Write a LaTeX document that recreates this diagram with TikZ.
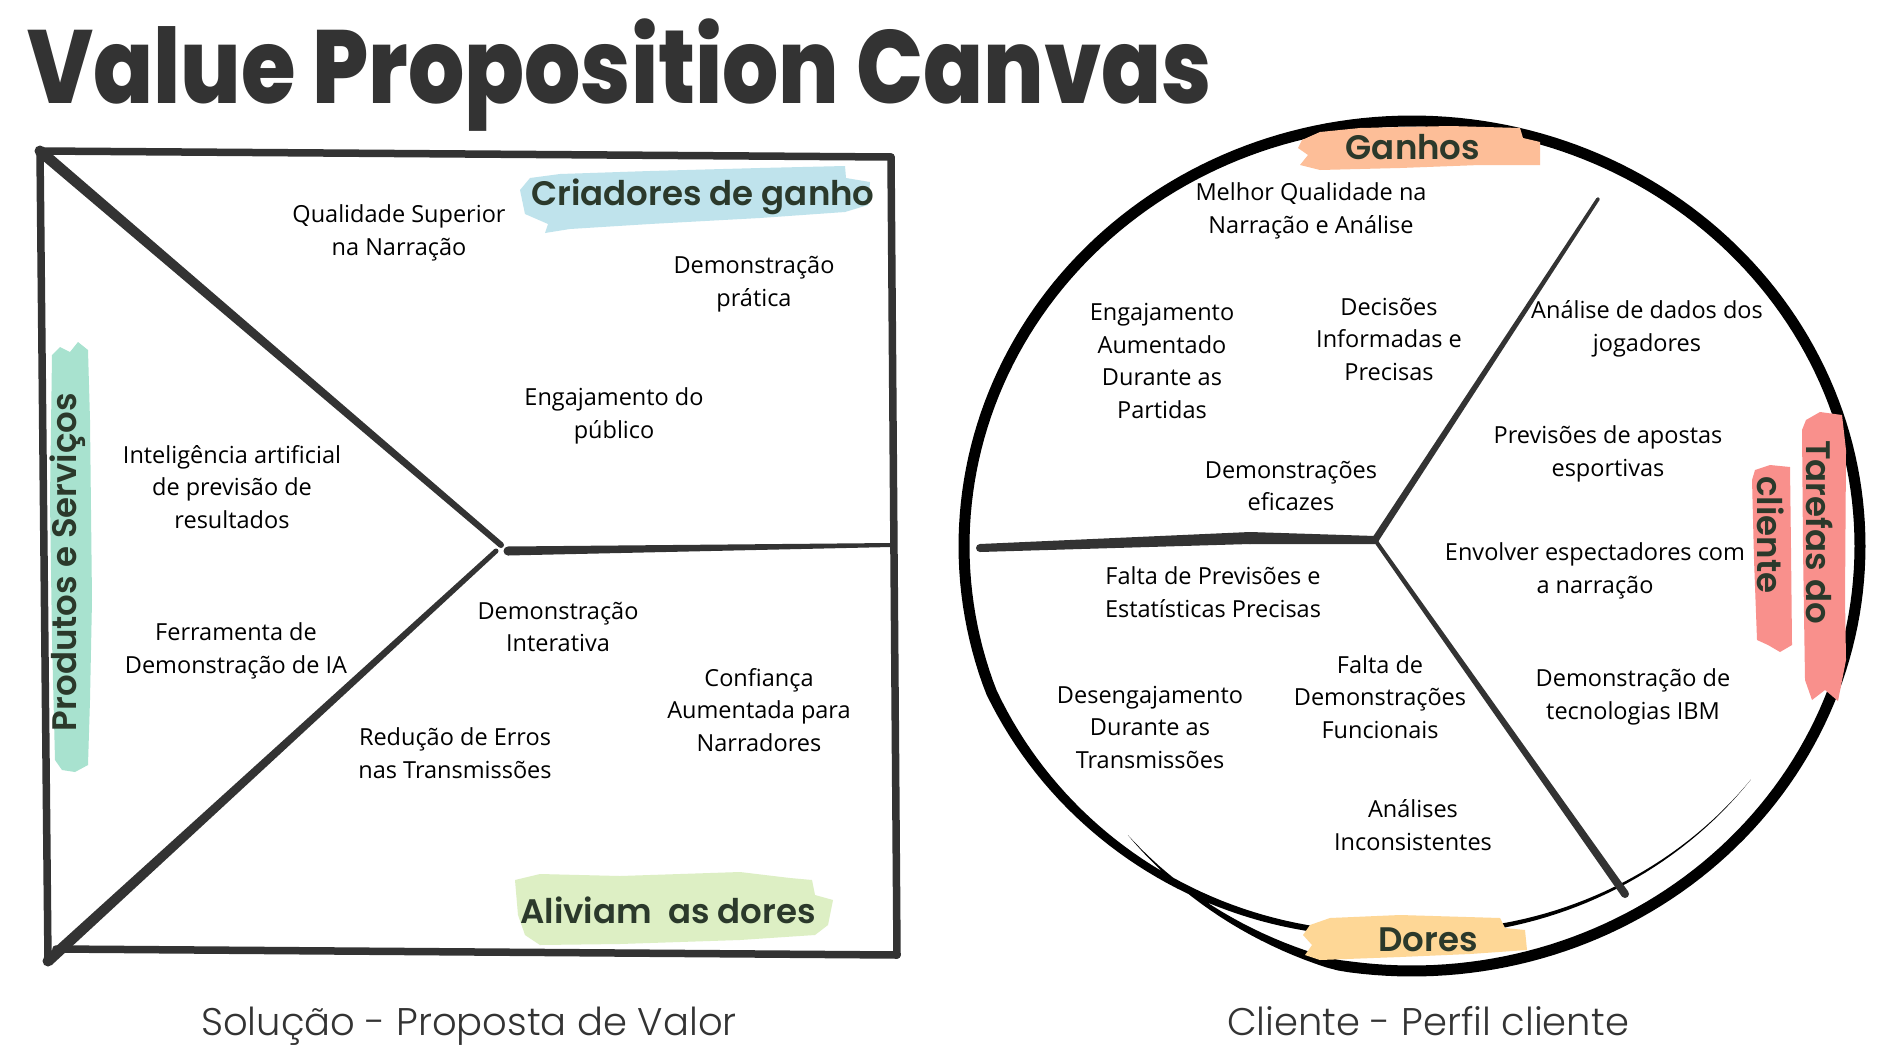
\documentclass[tikz,border=0pt]{standalone}
\usepackage{fontspec}
\usetikzlibrary{calc}
\newfontfamily\os{Open Sans}
\newfontfamily\popr{Poppins}
\IfFontExistsTF{Poppins SemiBold}{\newfontfamily\popsb{Poppins SemiBold}}{\def\popsb{\popr\bfseries}}
\IfFontExistsTF{Poppins ExtraBold}{\newfontfamily\popb{Poppins ExtraBold}}{%
  \IfFontExistsTF{Poppins Bold}{\newfontfamily\popb{Poppins Bold}}{\def\popb{\popr\bfseries}}}
\IfFontExistsTF{Poppins Light}{\newfontfamily\popl{Poppins Light}}{\def\popl{\popr}}
\definecolor{ink}{HTML}{333333}
\definecolor{lab}{HTML}{2B392B}
\definecolor{bblue}{HTML}{BFE3EC}
\definecolor{bgreen}{HTML}{DDEFC4}
\definecolor{bmint}{HTML}{A8E2CF}
\definecolor{bpeach}{HTML}{FDBE98}
\definecolor{byellow}{HTML}{FED796}
\definecolor{bpink}{HTML}{F9908C}
\newcommand\tpr[5]{\fill[#5] ($(#1)!#3!90:(#2)$) -- ($(#1)!#3!-90:(#2)$) -- ($(#2)!#4!90:(#1)$) -- ($(#2)!#4!-90:(#1)$) -- cycle;
  \fill[#5] (#1) circle (#3); \fill[#5] (#2) circle (#4);}
\tikzset{
  body/.style={align=center, text=black, font=\os\fontsize{23.5}{32.5}\selectfont, inner sep=0pt},
  label/.style={text=lab, font=\popsb\fontsize{34}{40}\selectfont, inner sep=0pt},
  caption/.style={text=ink, anchor=base, font=\popl\fontsize{38.5}{44}\selectfont, inner sep=0pt},
  edge/.style={draw=ink, line width=7.5pt, line cap=round, line join=round},
  declare function={
    kk(\x)=1-0.07*max(0,min(1,(-100-\x)/33))-0.09*max(0,min(1,(\x-200)/70))+0.025*max(0,min(1,(\x-270)/54));
    ww(\x)=11*min(1,(\x+133)/35)*(1-0.5*max(0,min(1,(\x-200)/60)))*min(1,(324-\x)/50);
  }
}
\begin{document}
\begin{tikzpicture}[x=1pt,y=-1pt]
\useasboundingbox[fill=white] (0,0) rectangle (1894,1052);

% title
\node[anchor=base west, inner sep=0pt, text=ink, xscale=0.85, font=\popb\fontsize{104}{110}\selectfont] (title) at (27,103) {Value Proposition Canvas};

% ---------- left square ----------
\coordinate (TL) at (40,151);
\coordinate (TR) at (891,157);
\coordinate (BR) at (897,955);
\coordinate (BL) at (48,961);
\coordinate (BB) at (56,949);
\coordinate (V) at (501,545);
\coordinate (V2) at (496,551);
\coordinate (M) at (508,551);
\coordinate (ME) at (891,545);

% brushes (left)
\fill[bblue] (520,190) -- (530,178) -- (560,174) -- (650,171) -- (760,168) -- (845,166) -- (846,178) -- (870,182) -- (868,205) -- (845,212) -- (760,218) -- (650,224) -- (570,229) -- (545,233) -- (548,224) -- (525,214) -- cycle;
\fill[bgreen] (515,880) -- (540,874) -- (620,876) -- (740,872) -- (790,878) -- (812,880) -- (815,895) -- (833,900) -- (828,925) -- (815,935) -- (740,940) -- (620,944) -- (540,945) -- (525,935) -- (518,915) -- cycle;
\fill[bmint] (52,355) -- (60,347) -- (70,352) -- (78,342) -- (88,350) -- (90,420) -- (92,600) -- (90,700) -- (88,765) -- (75,772) -- (62,770) -- (55,760) -- (52,640) -- (50,500) -- cycle;

\draw[edge] (TL) -- (TR);
\draw[edge] (TR) -- (BR);
\draw[edge] (BB) -- (BR);
\draw[edge] (TL) -- (BL);
\tpr{TL}{V}{5.5pt}{3pt}{ink}
\tpr{V2}{BL}{2.5pt}{5.5pt}{ink}
\tpr{M}{ME}{4.5pt}{2pt}{ink}

% labels left
\node[label] (crg) at (703,197) {Criadores de ganho};
\node[label] (alv) at (668,910) {Aliviam\ \ as dores};
\node[label, rotate=90] (pes) at (68,562) {Produtos e Serviços};

% body texts left
\node[body] (t1) at (399,233) {Qualidade Superior\\na Narração};
\node[body] (t2) at (754,284) {Demonstração\\prática};
\node[body] (t3) at (614,416) {Engajamento do\\público};
\node[body] (t4) at (232,487) {Inteligência artificial\\de previsão de\\resultados};
\node[body] (t5) at (236,651) {Ferramenta de\\Demonstração de IA};
\node[body] (t6) at (558,627) {Demonstração\\Interativa};
\node[body] (t7) at (759,710) {Confiança\\Aumentada para\\Narradores};
\node[body] (t8) at (455,753) {Redução de Erros\\nas Transmissões};

% ---------- right circle ----------
\fill[black] plot[domain=-133:324, samples=300] ({1412+(kk(\x)*448+ww(\x)/2)*cos(\x)}, {546-(kk(\x)*425+ww(\x)/2)*sin(\x)})
  -- plot[domain=324:-133, samples=300] ({1412+(kk(\x)*448-ww(\x)/2)*cos(\x)}, {546-(kk(\x)*425-ww(\x)/2)*sin(\x)}) -- cycle;

\coordinate (H) at (1375,540);
\coordinate (L0) at (980,548);
\coordinate (LM) at (1250,538);
\coordinate (U) at (1598,199);
\coordinate (D) at (1625,894);
\tpr{L0}{LM}{4pt}{6pt}{ink}
\tpr{LM}{H}{6pt}{4pt}{ink}
\tpr{H}{U}{3.5pt}{1.8pt}{ink}
\tpr{H}{D}{2pt}{4pt}{ink}

% brushes (right)
\fill[bpeach] (1302,140) -- (1320,132) -- (1360,128) -- (1450,126) -- (1520,128) -- (1523,138) -- (1540,142) -- (1540,165) -- (1480,165) -- (1400,168) -- (1320,170) -- (1300,165) -- (1308,155) -- (1298,148) -- cycle;
\fill[byellow] (1310,925) -- (1330,918) -- (1400,915) -- (1500,918) -- (1505,928) -- (1525,930) -- (1527,950) -- (1470,954) -- (1400,957) -- (1320,960) -- (1305,955) -- (1312,945) -- (1303,935) -- cycle;
\fill[bpink] (1806,420) -- (1820,412) -- (1842,415) -- (1846,450) -- (1845,600) -- (1846,660) -- (1838,701) -- (1825,690) -- (1812,700) -- (1805,680) -- (1803,550) -- (1802,430) -- cycle;
\fill[bpink] (1755,470) -- (1770,465) -- (1790,467) -- (1791,550) -- (1792,645) -- (1780,652) -- (1768,645) -- (1757,640) -- (1754,560) -- (1752,480) -- cycle;

\node[label] (gan) at (1413,147) {Ganhos};
\node[label] (dor) at (1428,940) {Dores};
\node[label, rotate=-90] (tar) at (1820,532) {Tarefas do};
\node[label, rotate=-90] (cli) at (1771,535) {cliente};

% body texts right
\node[body] (r1) at (1311,211) {Melhor Qualidade na\\Narração e Análise};
\node[body] (r2) at (1162,361) {Engajamento\\Aumentado\\Durante as\\Partidas};
\node[body] (r3) at (1389,339) {Decisões\\Informadas e\\Precisas};
\node[body] (r4) at (1291,486) {Demonstrações\\eficazes};
\node[body] (r5) at (1647,329) {Análise de dados dos\\jogadores};
\node[body] (r6) at (1608,454) {Previsões de apostas\\esportivas};
\node[body] (r7) at (1595,571) {Envolver espectadores com\\a narração};
\node[body] (r8) at (1633,697) {Demonstração de\\tecnologias IBM};
\node[body] (r9) at (1213,592) {Falta de Previsões e\\Estatísticas Precisas};
\node[body] (r10) at (1150,727) {Desengajamento\\Durante as\\Transmissões};
\node[body] (r11) at (1380,697) {Falta de\\Demonstrações\\Funcionais};
\node[body] (r12) at (1413,825) {Análises\\Inconsistentes};

% captions
\node[caption] (cap1) at (469,1035) {Solução - Proposta de Valor};
\node[caption] (cap2) at (1428,1035) {Cliente - Perfil cliente};
\end{tikzpicture}
\end{document}
